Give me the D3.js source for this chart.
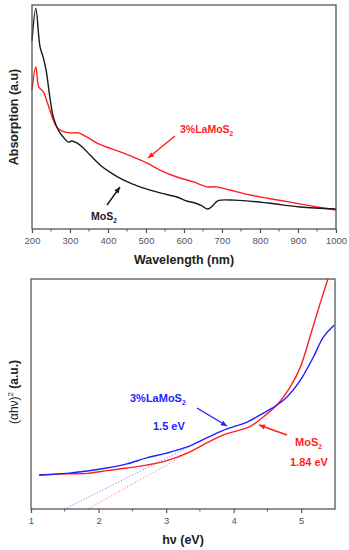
<!DOCTYPE html>
<html><head><meta charset="utf-8">
<script src="https://cdn.jsdelivr.net/npm/d3@7"></script>
<style>body{margin:0;background:#fff}svg{display:block}</style>
</head><body>
<svg id="c" width="349" height="550"></svg>
<script>
// ---- Top panel data (UV-Vis absorption, arbitrary units) ----
const wlTicks = [200,300,400,500,600,700,800,900,1000];
const mos2Wl   = [200,210,221,230,237,247,256,269,282,296,304,318,335,353,379,405,440,484,537,581,607,629,646,663,676,689,733,821,905,1000];
const mos2Abs  = [84,98.5,81.4,76.3,71,58.9,50,44.2,41.1,38.8,39.3,38.4,36.2,33,28.6,25.4,21.9,18.8,16.1,14.3,12.5,11.6,10.4,8.9,10.5,12.6,12.9,11.6,9.8,8.9];
const laWl     = [200,210,218,230,238,247,256,265,278,300,322,344,370,396,432,467,502,537,581,625,660,686,721,774,818,862,905,949,1000];
const laAbs    = [62,72.3,63.4,61.2,57.6,53.1,48.7,45.5,43.8,42.9,42.9,41.1,38.4,36.6,34.4,32.1,29.5,26.3,23.2,21.0,18.8,18.8,17.4,15.2,13.8,12.5,11.2,9.8,8.5];

// ---- Bottom panel data (Tauc plot) ----
const evTicks = [1,2,3,4,5];
const laEv     = [1.12,1.53,1.83,2.12,2.42,2.71,3.01,3.31,3.60,3.90,4.20,4.44,4.64,4.79,4.99,5.18,5.33,5.49];
const laTauc   = [14.8,15.5,16.5,17.8,19.6,22.2,24.3,27.0,30.9,34.8,37.8,41.7,45.2,48.7,56.1,66.1,74.8,80.0];
const mos2Ev   = [1.12,1.53,1.83,2.12,2.42,2.71,3.01,3.31,3.60,3.85,4.05,4.24,4.44,4.64,4.84,4.99,5.13,5.28,5.40,5.50];
const mos2Tauc = [14.8,15.3,15.5,16.7,17.8,19.1,21.0,24.3,28.7,32.2,34.0,35.8,40.1,45.2,53.2,61.9,74.9,89.4,100.3,108];
const laFitEv   = [1.5,3.34];  const laFitY   = [0,27];
const mos2FitEv = [1.84,3.37]; const mos2FitY = [0,25];

const svg = d3.select("#c");
const FONT = "'Liberation Sans', Arial, sans-serif";
const RED = "#ff1f1f", BLUE = "#1f1fff", BLACK = "#1a1a1a", FRAME = "#555";

function arrow(g, x1, y1, x2, y2, color) {
  g.append("line").attr("x1",x1).attr("y1",y1).attr("x2",x2).attr("y2",y2)
    .attr("stroke",color).attr("stroke-width",1.4);
  const a = Math.atan2(y2-y1, x2-x1), L = 6, W = 2.6;
  const p = [[x2,y2],[x2-L*Math.cos(a)+W*Math.sin(a), y2-L*Math.sin(a)-W*Math.cos(a)],
             [x2-L*Math.cos(a)-W*Math.sin(a), y2-L*Math.sin(a)+W*Math.cos(a)]];
  g.append("path").attr("d","M"+p.join("L")+"Z").attr("fill",color);
}
function subLabel(g, x, y, main, sub, color, size, anchor) {
  const t = g.append("text").attr("x",x).attr("y",y).attr("fill",color)
    .attr("font-family",FONT).attr("font-weight","bold").attr("font-size",size)
    .attr("text-anchor",anchor||"start");
  t.append("tspan").text(main);
  if (sub) t.append("tspan").attr("dy",3).attr("font-size",size*0.62).text(sub);
  return t;
}
function axisBox(g, x, y, ticks, minorStep, fmt) {
  const [x0,x1] = x.range(), [yb,yt] = y.range();
  g.append("rect").attr("x",x0).attr("y",yt).attr("width",x1-x0).attr("height",yb-yt)
    .attr("fill","none").attr("stroke",FRAME).attr("stroke-width",1.3);
  const ax = d3.axisBottom(x).tickValues(ticks).tickSize(4).tickPadding(4).tickFormat(fmt);
  const ga = g.append("g").attr("transform",`translate(0,${yb})`).call(ax);
  ga.select(".domain").remove();
  ga.selectAll("line").attr("stroke",FRAME).attr("stroke-width",1.2);
  ga.selectAll("text").attr("font-family",FONT).attr("font-size",9.5).attr("fill","#555");
  const d = x.domain(); const minor = [];
  for (let v = d[0] + minorStep; v < d[1]; v += 2*minorStep) minor.push(v);
  g.append("g").attr("transform",`translate(0,${yb})`).selectAll("line").data(minor).join("line")
    .attr("x1",v=>x(v)).attr("x2",v=>x(v)).attr("y1",0).attr("y2",2.5)
    .attr("stroke",FRAME).attr("stroke-width",1);
}

// ---------- Top panel ----------
const gTop = svg.append("g");
const x1s = d3.scaleLinear().domain([200,1000]).range([32,336]);
const y1s = d3.scaleLinear().domain([0,100]).range([229,5]);
const line1 = d3.line().x(d=>x1s(d[0])).y(d=>y1s(d[1])).curve(d3.curveCatmullRom.alpha(0.5));
gTop.append("path").datum(d3.zip(laWl,laAbs)).attr("d",line1).attr("fill","none").attr("stroke",RED).attr("stroke-width",1.4);
gTop.append("path").datum(d3.zip(mos2Wl,mos2Abs)).attr("d",line1).attr("fill","none").attr("stroke",BLACK).attr("stroke-width",1.4);
axisBox(gTop, x1s, y1s, wlTicks, 50, d3.format("d"));
gTop.append("text").attr("x",184).attr("y",264).attr("text-anchor","middle").attr("font-family",FONT)
  .attr("font-weight","bold").attr("font-size",12.5).attr("fill","#222").text("Wavelength (nm)");
gTop.append("text").attr("transform","translate(18,117) rotate(-90)").attr("text-anchor","middle").attr("font-family",FONT)
  .attr("font-weight","bold").attr("font-size",12.5).attr("fill","#222").text("Absorption (a.u)");
subLabel(gTop, 180, 133, "3%LaMoS", "2", RED, 10.5);
arrow(gTop, 175, 136, 148, 158, RED);
subLabel(gTop, 91, 220, "MoS", "2", BLACK, 10.5);
arrow(gTop, 107, 205, 120, 187, BLACK);

// ---------- Bottom panel ----------
const gBot = svg.append("g");
const x2s = d3.scaleLinear().domain([1,5.5]).range([31,335]);
const y2s = d3.scaleLinear().domain([0,100]).range([509,279]);
svg.append("defs").append("clipPath").attr("id","clip2").append("rect")
  .attr("x",31).attr("y",279).attr("width",304).attr("height",230);
const line2 = d3.line().x(d=>x2s(d[0])).y(d=>y2s(d[1])).curve(d3.curveCatmullRom.alpha(0.5));
const plot2 = gBot.append("g").attr("clip-path","url(#clip2)");
plot2.append("path").datum(d3.zip(laFitEv,laFitY)).attr("d",d3.line().x(d=>x2s(d[0])).y(d=>y2s(d[1])))
  .attr("stroke","#6a6aff").attr("stroke-width",1).attr("stroke-dasharray","1,2").attr("fill","none");
plot2.append("path").datum(d3.zip(mos2FitEv,mos2FitY)).attr("d",d3.line().x(d=>x2s(d[0])).y(d=>y2s(d[1])))
  .attr("stroke","#ff6a6a").attr("stroke-width",1).attr("stroke-dasharray","1,2").attr("fill","none");
plot2.append("path").datum(d3.zip(mos2Ev,mos2Tauc)).attr("d",line2).attr("fill","none").attr("stroke",RED).attr("stroke-width",1.4);
plot2.append("path").datum(d3.zip(laEv,laTauc)).attr("d",line2).attr("fill","none").attr("stroke",BLUE).attr("stroke-width",1.4);
axisBox(gBot, x2s, y2s, evTicks, 0.5, d3.format("d"));
const xt = gBot.append("text").attr("x",183).attr("y",544).attr("text-anchor","middle").attr("font-family",FONT)
  .attr("font-weight","bold").attr("font-size",12.5).attr("fill","#222");
xt.append("tspan").text("hν (eV)");
const yt = gBot.append("text").attr("transform","translate(18,392) rotate(-90)").attr("text-anchor","middle")
  .attr("font-family",FONT).attr("font-size",12).attr("fill","#222");
yt.append("tspan").text("(αhν)");
yt.append("tspan").attr("dy",-5).attr("font-size",8).text("2");
yt.append("tspan").attr("dy",5).attr("font-weight","bold").text(" (a.u.)");
subLabel(gBot, 130, 402, "3%LaMoS", "2", BLUE, 11);
subLabel(gBot, 153, 430, "1.5 eV", null, BLUE, 11);
arrow(gBot, 197, 408, 227, 426, BLUE);
subLabel(gBot, 295, 446, "MoS", "2", RED, 11);
subLabel(gBot, 290, 466, "1.84 eV", null, RED, 11);
arrow(gBot, 287, 435, 259, 425, RED);
</script>
</body></html>
